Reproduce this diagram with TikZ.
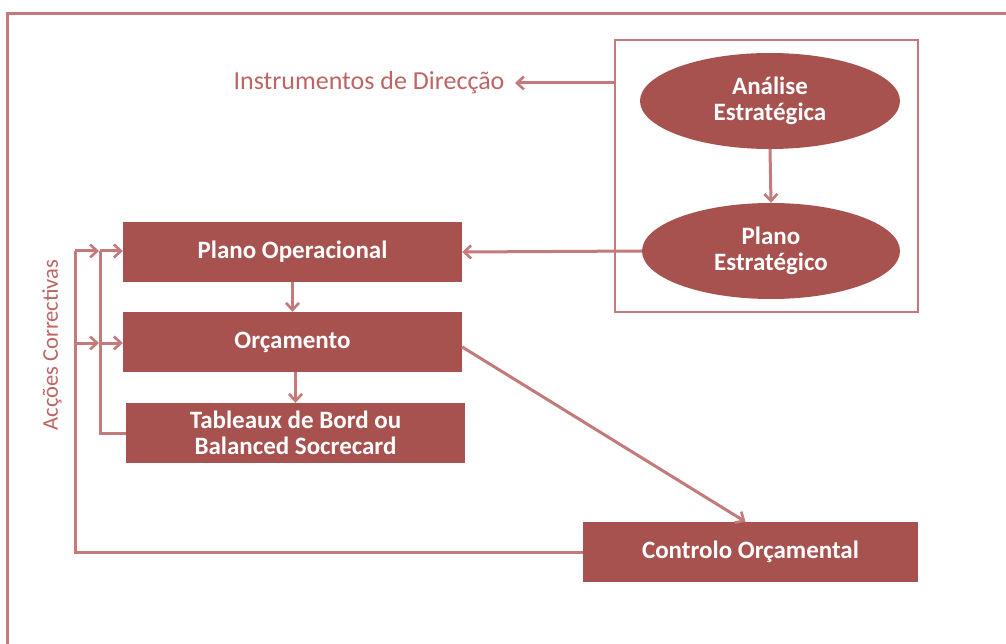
\documentclass[tikz,border=0pt]{standalone}
\usepackage{fontspec}
\setmainfont{Carlito}
\usetikzlibrary{shapes.geometric,arrows.meta}
\definecolor{boxred}{RGB}{168,82,80}
\definecolor{linered}{RGB}{196,122,122}
\definecolor{textred}{RGB}{190,100,100}
\tikzset{
  box/.style={draw=none, fill=boxred, text=white, font=\bfseries\fontsize{25}{26}\selectfont, align=center, inner sep=0pt},
  ell/.style={ellipse, draw=none, fill=boxred, text=white, font=\bfseries\fontsize{25}{26}\selectfont, align=center, inner sep=0pt},
  conn/.style={draw=linered, line width=3pt, -{Straight Barb[length=7pt,width=13pt,line width=2.6pt]}},
  plain/.style={draw=linered, line width=3pt},
  frame/.style={draw=linered, line width=3pt}
}
\begin{document}
\begin{tikzpicture}[x=1pt,y=-1pt]
\useasboundingbox (0,0) rectangle (1006,644);
\fill[white] (0,0) rectangle (1006,644);
% outer frame
\draw[frame] (7,650) -- (7,14) -- (1012,14);
% strategic box
\node[draw=linered, line width=2.6pt, minimum width=303pt, minimum height=272pt, inner sep=0pt] (sbox) at (766.5,176) {};
\node[ell, minimum width=260pt, minimum height=96pt] (an) at (770,101) {Análise\\Estratégica};
\node[ell, minimum width=258pt, minimum height=96pt] (pe) at (771,251) {Plano\\Estratégico};
\node[text=textred, font=\fontsize{26}{27}\selectfont, anchor=center] (instr) at (369,83) {Instrumentos de Direcção};
\coordinate (instrend) at (515,83);
% boxes
\node[box, minimum width=339pt, minimum height=60pt] (po) at (292.5,252) {Plano Operacional};
\node[box, minimum width=339pt, minimum height=60pt] (orc) at (292.5,342) {Orçamento};
\node[box, minimum width=339pt, minimum height=60pt] (tb) at (295.5,433) {Tableaux de Bord ou\\Balanced Socrecard};
\node[box, minimum width=335pt, minimum height=60pt] (co) at (750.5,552) {Controlo Orçamental};
% label
\node[text=textred, font=\fontsize{22.5}{24}\selectfont, rotate=90] (ac) at (52,345) {Acções Correctivas};
% connectors
\draw[conn] (sbox.west |- 0,83) -- (instrend);
\draw[conn] (an.south) -- (pe.north);
\draw[conn] (pe.west) -- (po.east);
\draw[conn] (po.south) -- (orc.north);
\draw[conn] ([xshift=3pt]orc.south) -- ([xshift=3pt]orc.south |- tb.north);
\draw[conn] (orc.east |- 0,347) -- ([xshift=-5pt]co.north);
% feedback from controlo
\coordinate (fb1) at (75,552);
\draw[plain] (co.west) -- (fb1) -- (75,251);
\draw[conn] (75,251) -- (99,251);
\draw[conn] (75,343) -- (99,343);
% feedback from tableaux
\draw[plain] (tb.west) -- (100,433) -- (100,251);
\draw[conn] (100,251) -- (po.west |- 0,251);
\draw[conn] (100,343) -- (orc.west |- 0,343);
\end{tikzpicture}
\end{document}
